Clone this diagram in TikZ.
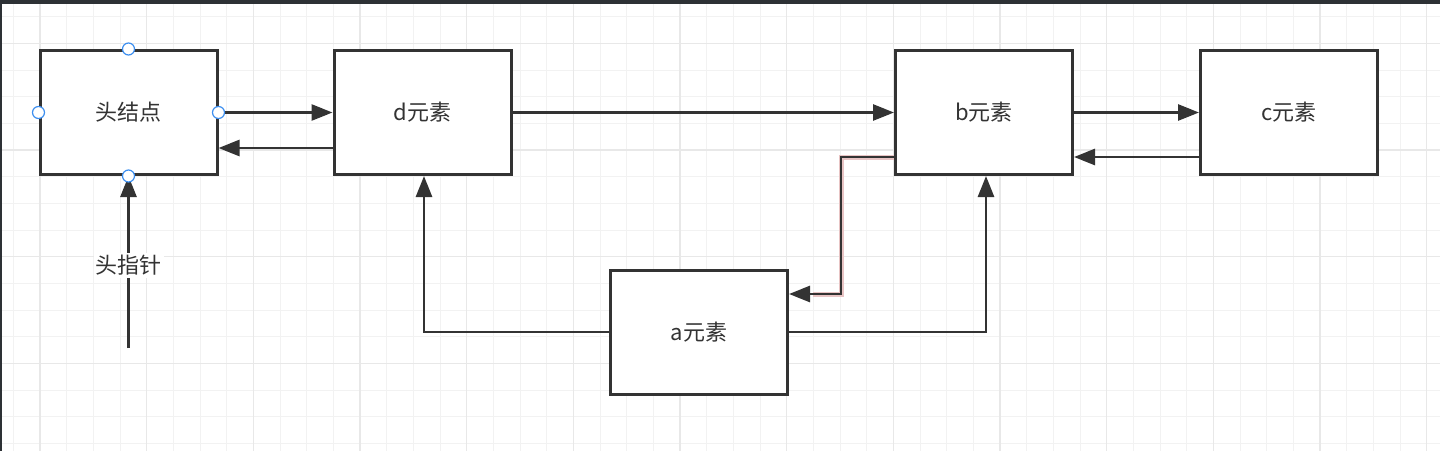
\documentclass[tikz,border=0pt]{standalone}
\usepackage{fontspec}
\newfontfamily\cjk{Noto Sans CJK SC}
\usetikzlibrary{arrows.meta}
\definecolor{ink}{HTML}{333333}
\definecolor{gridminor}{HTML}{F2F2F2}
\definecolor{gridmajor}{HTML}{E8E8E8}
\definecolor{frame}{HTML}{2D3135}
\definecolor{handle}{HTML}{3D8FF0}
\definecolor{halo}{HTML}{E8C4C4}
\tikzset{
  elem/.style={draw=ink, line width=3pt, fill=white, minimum width=177pt, minimum height=124pt,
    inner sep=0pt, font=\cjk\fontsize{22}{26}\selectfont, text=ink},
  conn/.style={draw=ink, line width=2.7pt, -{Triangle[length=21pt,width=16pt]}},
  handledot/.style={circle, draw=handle, line width=1.2pt, fill=white, minimum size=12pt, inner sep=0pt},
  lbl/.style={fill=white, font=\cjk\fontsize{22}{26}\selectfont, text=ink, inner sep=2pt}
}
\begin{document}
\begin{tikzpicture}[x=1pt,y=-1pt]
\useasboundingbox (0,0) rectangle (1440,451);
\fill[white] (0,0) rectangle (1440,451);
% grid
\foreach \i in {0,...,54}{
  \pgfmathsetmacro{\gx}{13.333+\i*26.667}
  \draw[gridminor, line width=1pt] (\gx,0) -- (\gx,451);
}
\foreach \i in {0,...,17}{
  \pgfmathsetmacro{\gy}{16.667+\i*26.667}
  \draw[gridminor, line width=1pt] (0,\gy) -- (1440,\gy);
}
\foreach \i in {0,...,13}{
  \pgfmathsetmacro{\gx}{40+\i*106.667}
  \draw[gridmajor, line width=1.2pt] (\gx,0) -- (\gx,451);
}
\foreach \i in {0,...,4}{
  \pgfmathsetmacro{\gy}{43.333+\i*106.667}
  \draw[gridmajor, line width=1.2pt] (0,\gy) -- (1440,\gy);
}
\fill[frame] (0,0) rectangle (1440,4);
\fill[frame] (0,0) rectangle (2,451);

% nodes
\node[elem] (hn) at (128.5,112.5) {头结点};
\node[elem] (d) at (422.5,112.5) {d元素};
\node[elem] (b) at (984,112.5) {b元素};
\node[elem] (c) at (1289,112.5) {c元素};
\node[elem] (a) at (699,332) {a元素};
\coordinate (hp) at (128.5,348);

% connectors
\draw[conn] (hn.east) -- (d.west);
\draw[conn] ([yshift=-35.5pt]d.west) -- ([yshift=-35.5pt]hn.east);
\draw[conn] (d.east) -- (b.west);
\draw[conn] (b.east) -- (c.west);
\draw[conn] ([yshift=-44.5pt]c.west) -- ([yshift=-44.5pt]b.east);
\draw[halo, line width=5pt] ([yshift=-44.5pt]b.west) -- ++(-53,0) |- ([yshift=38pt,xshift=24pt]a.east);
\draw[conn] ([yshift=-44.5pt]b.west) -- ++(-53,0) |- ([yshift=38pt]a.east);
\draw[conn] (a.west) -| ([xshift=1.5pt]d.south);
\draw[conn] (a.east) -| ([xshift=2pt]b.south);
\draw[conn] (hp) -- (hn.south) node[lbl, pos=0.48] (hpl) {头指针};

% selection handles
\node[handledot] (h1) at (hn.north) {};
\node[handledot] (h2) at (hn.west) {};
\node[handledot] (h3) at (hn.east) {};
\node[handledot] (h4) at (hn.south) {};
\end{tikzpicture}
\end{document}
